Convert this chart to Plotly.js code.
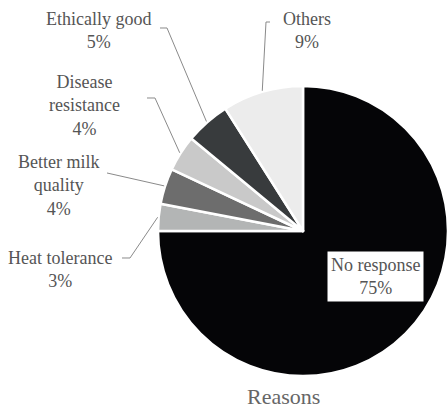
<!DOCTYPE html>
<html>
<head>
<meta charset="utf-8">
<script src="https://cdn.plot.ly/plotly-3.0.1.min.js"></script>
<style>
  html, body { margin: 0; padding: 0; background: #fff; }
  #chart { width: 448px; height: 412px; }
  #chart text, #chart tspan { font-family: "Liberation Serif", "Times New Roman", serif !important; }
</style>
</head>
<body>
<div id="chart"></div>
<script>
// Reasons given by respondents (percent)
const reasons = ["No response", "Heat tolerance", "Better milk quality", "Disease resistance", "Ethically good", "Others"];
const shares = [75, 3, 4, 4, 5, 9];
const sliceColors = ["#050507", "#b3b5b5", "#6d6d6d", "#c9c9c9", "#383b3d", "#ececec"];

// Label text blocks (line breaks as drawn)
const labelLines = [
  ["No response"],
  ["Heat tolerance"],
  ["Better milk", "quality"],
  ["Disease", "resistance"],
  ["Ethically good"],
  ["Others"]
];

const W = 448, H = 412;
// pie geometry in pixels
const cx = 303, cy = 231, r = 145;
const px = x => x / W;
const py = y => 1 - y / H;

// label placement (pixel centres) and leader-line elbows
const labelPos = [
  {x: 375, y: 276},
  {x: 60, y: 269},
  {x: 58, y: 185},
  {x: 84, y: 105},
  {x: 98, y: 31},
  {x: 307, y: 31}
];
const elbows = [
  null,
  [[122, 258], [130, 258]],
  [[107, 173]],
  [[147, 98], [155, 98]],
  [[160, 28], [167, 28]],
  [[270, 22], [266, 22]]
];

const serif = "Liberation Serif";
const total = shares.reduce((a, b) => a + b, 0);
let cum = 0;
const shapes = [];
const annotations = [];

shares.forEach((v, i) => {
  const mid = (cum + v / 2) / total * 360;
  cum += v;
  const text = labelLines[i].concat([v + "%"]).join("<br>");
  const ann = {
    xref: "paper", yref: "paper", x: px(labelPos[i].x), y: py(labelPos[i].y),
    xanchor: "center", yanchor: "middle", showarrow: false,
    text: text, font: {family: serif, size: 18, color: "#555555"}
  };
  if (i === 0) {
    ann.bgcolor = "#ffffff";
    ann.borderpad = 3;
    annotations.push(ann);
    return;
  }
  annotations.push(ann);
  const rad = mid * Math.PI / 180;
  const ex = cx + (r + 1) * Math.sin(rad);
  const ey = cy - (r + 1) * Math.cos(rad);
  const pts = elbows[i].concat([[ex, ey]]);
  const path = pts.map((p, k) => (k ? "L" : "M") + px(p[0]).toFixed(5) + "," + py(p[1]).toFixed(5)).join(" ");
  shapes.push({type: "path", xref: "paper", yref: "paper", path: path,
    line: {color: "#8a8a8a", width: 1}});
});

annotations.push({
  xref: "paper", yref: "paper", x: px(283), y: py(396),
  xanchor: "center", yanchor: "middle", showarrow: false,
  text: "Reasons", font: {family: serif, size: 22, color: "#666666"}
});

const trace = {
  type: "pie",
  labels: reasons,
  values: shares,
  sort: false,
  direction: "clockwise",
  rotation: 0,
  textinfo: "none",
  hoverinfo: "skip",
  marker: {colors: sliceColors, line: {color: "#ffffff", width: 2.5}},
  domain: {x: [px(cx - r), 1], y: [py(cy + r), py(cy - r)]},
  showlegend: false
};

Plotly.newPlot("chart", [trace], {
  width: W, height: H,
  margin: {l: 0, r: 0, t: 0, b: 0},
  paper_bgcolor: "#ffffff",
  font: {family: serif, size: 18, color: "#555555"},
  showlegend: false,
  shapes: shapes,
  annotations: annotations
}, {staticPlot: true});
</script>
</body>
</html>
